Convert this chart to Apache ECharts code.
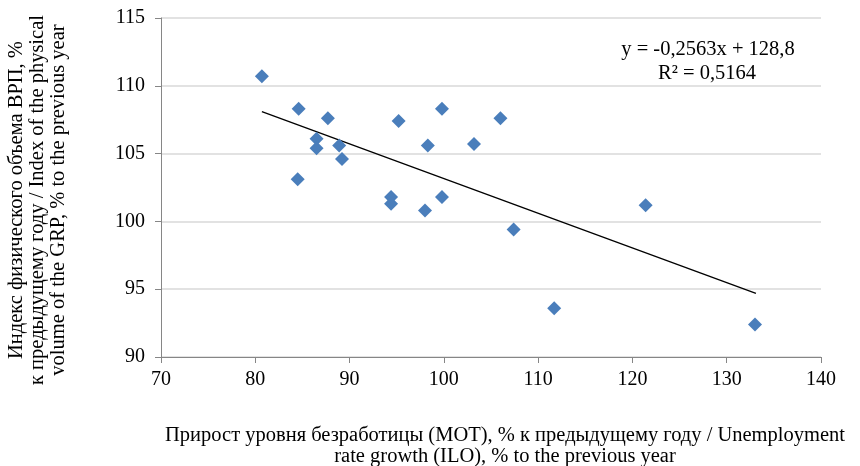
<!DOCTYPE html>
<html><head><meta charset="utf-8">
<script src="https://cdn.jsdelivr.net/npm/echarts@6/dist/echarts.min.js"></script>
<style>html,body{margin:0;padding:0;background:#fff}#c{width:860px;height:466px}</style>
</head><body><div id="c"></div>
<script>
const unemploymentGrowth = [80.7, 84.6, 87.7, 86.5, 86.5, 88.9, 89.2, 84.5, 95.2, 99.8, 98.3, 103.2, 106.0, 94.4, 94.4, 98.0, 99.8, 107.4, 111.7, 121.4, 133.0];
const grpIndex =           [110.7, 108.3, 107.6, 106.1, 105.4, 105.6, 104.6, 103.1, 107.4, 108.3, 105.6, 105.7, 107.6, 101.8, 101.3, 100.8, 101.8, 99.4, 93.6, 101.2, 92.4];
const trendX = [80.7, 133.1];
const trendY = [108.1, 94.7];
const xTicks = [70, 140, 10];
const yTicks = [90, 115, 5];
const equationText = ['y = -0,2563x + 128,8', 'R² = 0,5164'];
const xTitle = ['Прирост уровня безработицы (МОТ), % к предыдущему году / Unemployment', 'rate growth (ILO), % to the previous year'];
const yTitle = ['Индекс физического объема ВРП, %', 'к предыдущему году / Index of the physical', 'volume of the GRP, % to the previous year'];

const font = '"Liberation Serif", "Times New Roman", serif';
const tf = '20.5px ' + font;
const chart = echarts.init(document.getElementById('c'));
const txt = (x, y, s, rot) => ({
  type: 'text', x: x, y: y, rotation: rot || 0,
  style: {text: s, font: tf, fill: '#000', align: 'center', verticalAlign: 'middle'}
});
chart.setOption({
  animation: false,
  grid: {left: 161, right: 39, top: 18, bottom: 109},
  xAxis: {
    type: 'value', min: xTicks[0], max: xTicks[1], interval: xTicks[2],
    axisLine: {show: true, lineStyle: {color: '#868686', width: 1}},
    axisTick: {show: true, length: 6, lineStyle: {color: '#868686'}},
    axisLabel: {color: '#000', fontFamily: font, fontSize: 20, margin: 13},
    splitLine: {show: false}
  },
  yAxis: {
    type: 'value', min: yTicks[0], max: yTicks[1], interval: yTicks[2],
    axisLine: {show: true, lineStyle: {color: '#868686', width: 1}},
    axisTick: {show: true, length: 6, lineStyle: {color: '#868686'}},
    axisLabel: {color: '#000', fontFamily: font, fontSize: 20, margin: 16},
    splitLine: {show: true, lineStyle: {color: '#d9d9d9', width: 1.5}}
  },
  series: [
    {
      type: 'line', data: trendX.map((x, i) => [x, trendY[i]]),
      symbol: 'none', lineStyle: {color: '#000', width: 1.3}, z: 2
    },
    {
      type: 'scatter', data: unemploymentGrowth.map((x, i) => [x, grpIndex[i]]),
      symbol: 'diamond', symbolSize: [14, 14],
      itemStyle: {color: '#4a7ebb', opacity: 1}, z: 3
    }
  ],
  graphic: [
    txt(708, 50, equationText[0]),
    txt(707, 74, equationText[1]),
    txt(505, 436, xTitle[0]),
    txt(505, 457, xTitle[1]),
    txt(17, 200, yTitle[0], Math.PI / 2),
    txt(38, 200, yTitle[1], Math.PI / 2),
    txt(59, 200, yTitle[2], Math.PI / 2)
  ]
});
</script></body></html>
